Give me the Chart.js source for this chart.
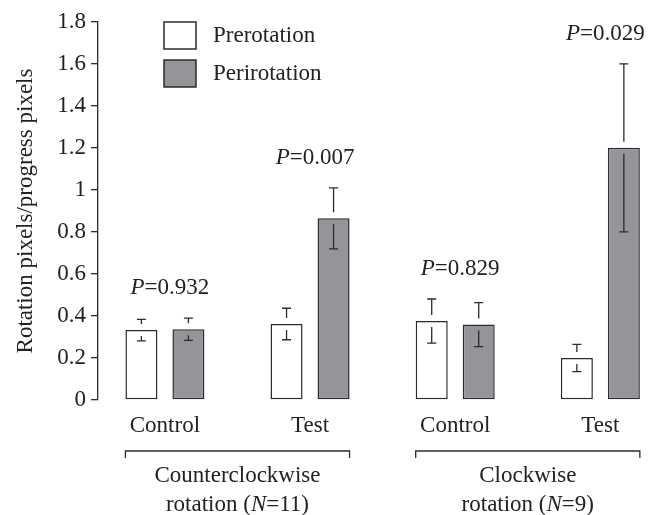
<!DOCTYPE html>
<html>
<head>
<meta charset="utf-8">
<script src="https://cdn.jsdelivr.net/npm/chart.js@4"></script>
<style>
  html, body { margin: 0; padding: 0; background: #fff; }
  canvas { display: block; }
</style>
</head>
<body>
<canvas id="chart" width="659" height="515"></canvas>
<script>
// Data
const categories = ['Control', 'Test', 'Control', 'Test'];
const preValues = [0.333, 0.362, 0.376, 0.200];
const preErrors = [0.051, 0.075, 0.105, 0.065];
const periValues = [0.337, 0.865, 0.359, 1.201];
const periErrors = [0.053, 0.145, 0.105, 0.400];
const pValues = ['0.932', '0.007', '0.829', '0.029'];
const groupNames = [['Counterclockwise', 'rotation (', 'N', '=11)'], ['Clockwise', 'rotation (', 'N', '=9)']];
const yTicks = [0, 0.2, 0.4, 0.6, 0.8, 1, 1.2, 1.4, 1.6, 1.8];

const FONT = "'Liberation Serif', 'Times New Roman', serif";
const INK = '#2b2b2b';
const GRAY = '#939598';

Chart.defaults.font.family = FONT;
Chart.defaults.font.size = 23;
Chart.defaults.color = '#222';

// draws a line of text made of plain and italic pieces, centred on cx
function drawRich(ctx, parts, cx, cy) {
    const widths = parts.map(p => {
        ctx.font = (p.it ? 'italic ' : '') + '23px ' + FONT;
        return ctx.measureText(p.t).width;
    });
    let x = cx - widths.reduce((a, b) => a + b, 0) / 2;
    ctx.textAlign = 'left';
    ctx.textBaseline = 'middle';
    parts.forEach((p, i) => {
        ctx.font = (p.it ? 'italic ' : '') + '23px ' + FONT;
        ctx.fillText(p.t, x, cy);
        x += widths[i];
    });
}

const extras = {
    id: 'extras',
    afterDatasetsDraw(chart) {
        const ctx = chart.ctx;
        const y = chart.scales.y;
        const area = chart.chartArea;
        const errs = [preErrors, periErrors];
        const vals = [preValues, periValues];
        ctx.save();
        ctx.strokeStyle = INK;
        ctx.fillStyle = '#222';
        ctx.lineWidth = 1.3;

        // error bars, broken around the bar top
        chart.data.datasets.forEach((ds, d) => {
            const meta = chart.getDatasetMeta(d);
            meta.data.forEach((bar, i) => {
                const top = bar.y;
                const hi = y.getPixelForValue(vals[d][i] + errs[d][i]);
                const lo = y.getPixelForValue(vals[d][i] - errs[d][i]);
                const gap = 6;
                ctx.beginPath();
                ctx.moveTo(bar.x, hi); ctx.lineTo(bar.x, top - gap);
                ctx.moveTo(bar.x - 4.5, hi); ctx.lineTo(bar.x + 4.5, hi);
                ctx.moveTo(bar.x, top + gap); ctx.lineTo(bar.x, lo);
                ctx.moveTo(bar.x - 4.5, lo); ctx.lineTo(bar.x + 4.5, lo);
                ctx.stroke();
            });
        });

        // P labels above each pair
        const preMeta = chart.getDatasetMeta(0);
        const periMeta = chart.getDatasetMeta(1);
        pValues.forEach((p, i) => {
            const topErr = Math.min(
                y.getPixelForValue(preValues[i] + preErrors[i]),
                y.getPixelForValue(periValues[i] + periErrors[i]));
            const cx = (preMeta.data[i].x + periMeta.data[i].x) / 2 + 5;
            drawRich(ctx, [{ t: 'P', it: true }, { t: '=' + p }], cx, topErr - 30);
        });

        // brackets and group names below the axis
        groupNames.forEach((g, k) => {
            const a = preMeta.data[k * 2];
            const b = periMeta.data[k * 2 + 1];
            const x0 = a.x - a.width / 2;
            const x1 = b.x + b.width / 2;
            const by = area.bottom + 51;
            ctx.beginPath();
            ctx.moveTo(x0, by + 7); ctx.lineTo(x0, by);
            ctx.lineTo(x1, by); ctx.lineTo(x1, by + 7);
            ctx.stroke();
            const cx = (x0 + x1) / 2;
            drawRich(ctx, [{ t: g[0] }], cx, by + 25);
            drawRich(ctx, [{ t: g[1] }, { t: g[2], it: true }, { t: g[3] }], cx, by + 54);
        });

        // legend
        chart.data.datasets.forEach((ds, d) => {
            const bx = area.left + 66;
            const by = area.top + d * 38;
            ctx.fillStyle = ds.backgroundColor;
            ctx.fillRect(bx, by, 32, 27);
            ctx.lineWidth = 1.5;
            ctx.strokeRect(bx, by, 32, 27);
            ctx.fillStyle = '#222';
            ctx.font = '23px ' + FONT;
            ctx.textAlign = 'left';
            ctx.textBaseline = 'middle';
            ctx.fillText(ds.label, bx + 49, by + 13.5);
        });
        ctx.restore();
    }
};

new Chart(document.getElementById('chart'), {
    type: 'bar',
    data: {
        datasets: [
            {
                label: 'Prerotation',
                data: categories.map((c, i) => ({ x: i, y: preValues[i] })),
                backgroundColor: '#ffffff',
                borderColor: INK,
                borderWidth: 1.5,
                borderSkipped: false
            },
            {
                label: 'Perirotation',
                data: categories.map((c, i) => ({ x: i, y: periValues[i] })),
                backgroundColor: GRAY,
                borderColor: INK,
                borderWidth: 1.5,
                borderSkipped: false
            }
        ]
    },
    options: {
        responsive: false,
        animation: false,
        categoryPercentage: 0.6476,
        barPercentage: 0.681,
        layout: { padding: { top: 22, right: 9, left: 0, bottom: 0 } },
        plugins: {
            legend: { display: false },
            tooltip: { enabled: false }
        },
        scales: {
            x: {
                type: 'linear',
                offset: false,
                min: -0.461,
                max: 3.342,
                afterBuildTicks: s => { s.ticks = categories.map((c, i) => ({ value: i })); },
                afterFit: s => { s.height = 115; },
                grid: { display: false, drawTicks: false, offset: false },
                border: { display: false },
                ticks: {
                    padding: 12,
                    maxRotation: 0,
                    autoSkip: false,
                    callback: v => categories[v]
                }
            },
            y: {
                min: 0,
                max: 1.8,
                afterBuildTicks: s => { s.ticks = yTicks.map(v => ({ value: v })); },
                afterFit: s => { s.width = 98; },
                grid: { drawOnChartArea: false, tickLength: 7, color: INK, lineWidth: 1.3 },
                border: { color: INK, width: 1.3 },
                ticks: {
                    padding: 5,
                    callback: v => String(Math.round(v * 10) / 10)
                },
                title: {
                    display: true,
                    text: 'Rotation pixels/progress pixels',
                    padding: { top: 12, bottom: 0 }
                }
            }
        }
    },
    plugins: [extras]
});
</script>
</body>
</html>
